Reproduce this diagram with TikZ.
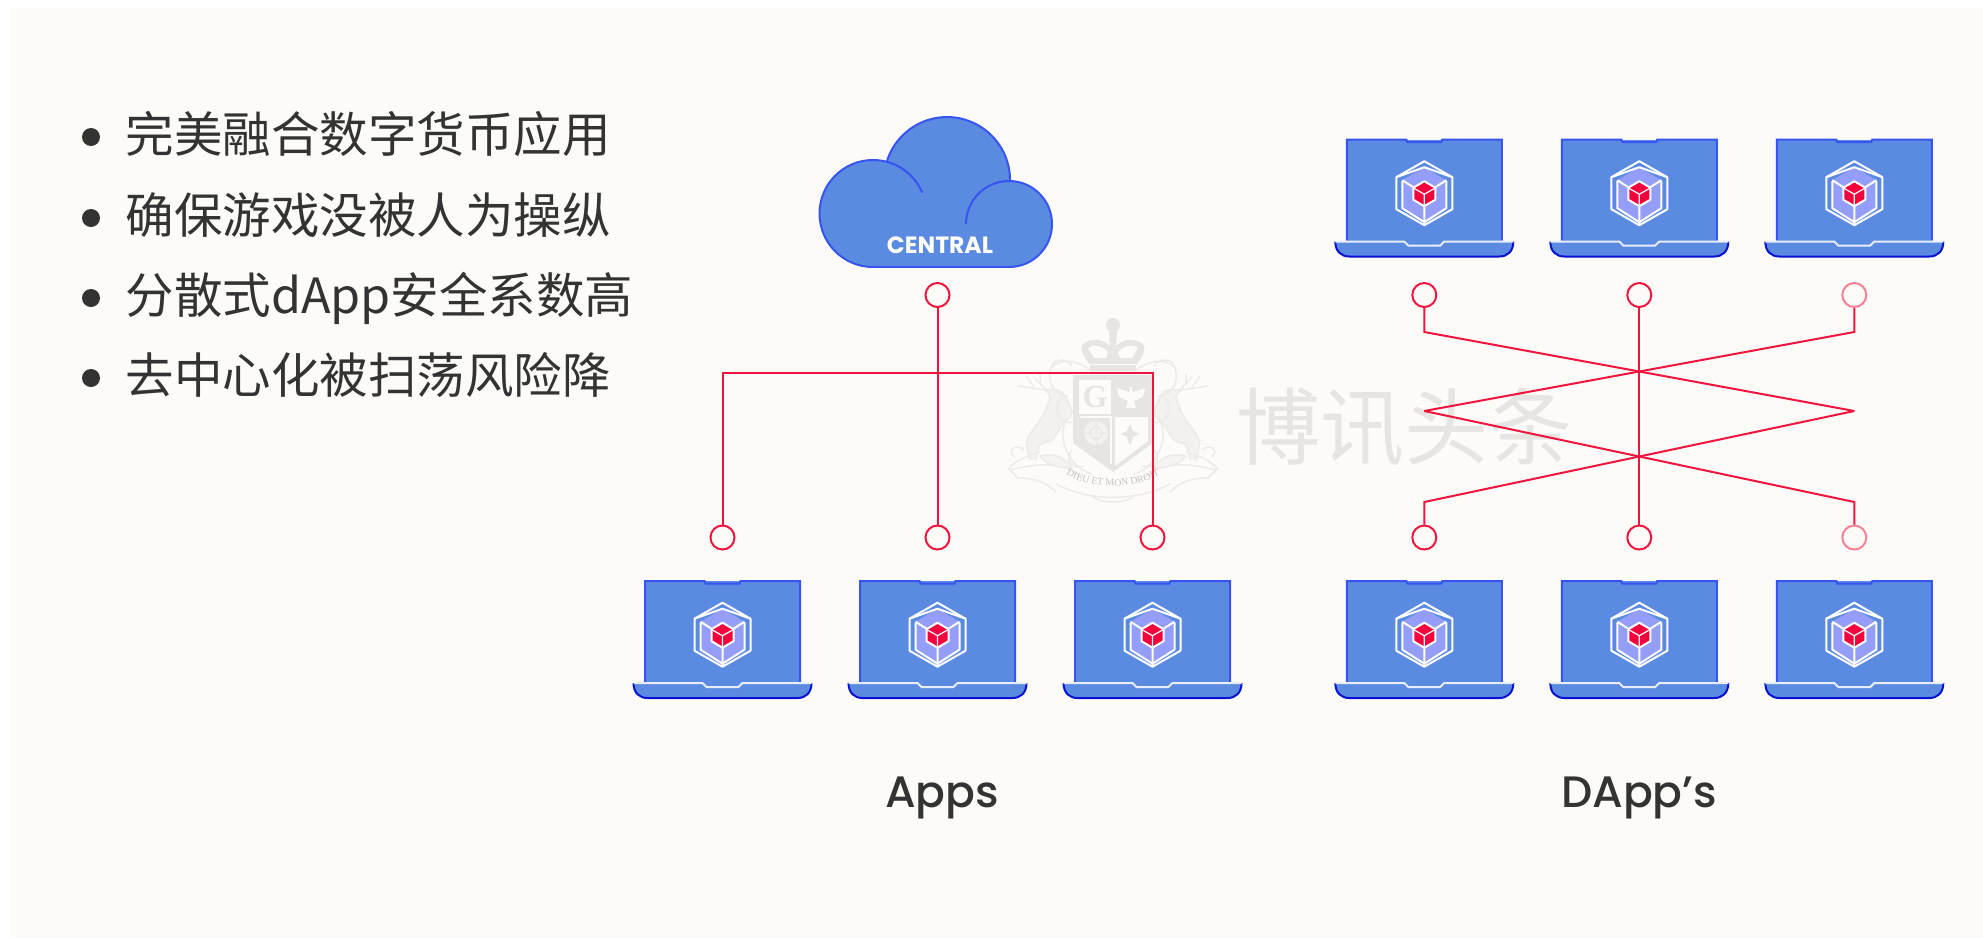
\documentclass[tikz,border=0pt]{standalone}
\usepackage{fontspec}
\setmainfont{Poppins}
\newfontfamily\cjk{Noto Sans CJK SC}
\newfontfamily\crestfont{Liberation Serif}
\newfontfamily\titlefont{Poppins Medium}
\usetikzlibrary{decorations.text}

\definecolor{paper}{HTML}{FCFBF7}
\definecolor{screen}{HTML}{5B8BE0}
\definecolor{rim}{HTML}{3655F0}
\definecolor{rimdark}{HTML}{0A12D2}
\definecolor{lilac}{HTML}{949EF8}
\definecolor{cubered}{HTML}{F5003C}
\definecolor{wirered}{HTML}{F0153E}
\definecolor{wirepale}{HTML}{F58097}
\definecolor{ink}{HTML}{333333}
\definecolor{crestgray}{HTML}{E6E5E1}
\definecolor{crestline}{HTML}{ECEBE7}

\tikzstyle{item} = [anchor=base west, inner sep=0pt, text=ink, font=\cjk\fontsize{48.5}{58}\selectfont]
\tikzstyle{dot} = [circle, minimum size=18pt, inner sep=0pt, fill=ink]
\tikzstyle{title} = [anchor=base, inner sep=0pt, text=ink, font=\titlefont\fontsize{44}{54}\selectfont]
\tikzstyle{port} = [circle, minimum size=24pt, inner sep=0pt, draw=wirered, line width=2pt]
\tikzstyle{paleport} = [port, draw=wirepale]
\tikzstyle{wire} = [draw=wirered, line width=2pt]
\tikzstyle{cloudline} = [draw=rim, line width=2pt]
\tikzstyle{scroll} = [draw=crestline, line width=1.5pt]
\tikzstyle{hexline} = [white, line width=2pt, line join=round]

\tikzset{
  laptop/.pic={
    \fill[screen] (-77.5,0) -- (77.5,0) -- (77.5,102) -- (-77.5,102) -- cycle;
    \draw[rim, line width=2pt] (-77.5,101) -- (-77.5,0) -- (-18,0) -- (-17,2.5) -- (17,2.5) -- (18,0) -- (77.5,0) -- (77.5,101);
    % base
    \fill[screen] (-89,102) .. controls (-89,112) and (-83,117) .. (-75,117) -- (75,117) .. controls (83,117) and (89,112) .. (89,102) -- cycle;
    \draw[rimdark, line width=2pt] (-89,102) .. controls (-89,112) and (-83,117) .. (-75,117) -- (75,117) .. controls (83,117) and (89,112) .. (89,102);
    \draw[white!85!screen, line width=2pt] (-89,102) -- (-20,102) -- (-16,106) -- (16,106) -- (20,102) -- (89,102);
    % cube
    \begin{scope}[shift={(0,53.7)}]
      \fill[lilac] (0,-26) -- (22,-13) -- (22,15) -- (0,28) -- (-22,15) -- (-22,-13) -- cycle;
      \draw[hexline] (0,-32) -- (28,-16) -- (28,16) -- (0,32) -- (-28,16) -- (-28,-16) -- cycle;
      \draw[hexline] (-28,-16) -- (0,-26) -- (28,-16);
      \draw[hexline] (-22,-12) -- (-22,15) -- (0,29) -- (22,15) -- (22,-12);
      \draw[hexline] (-22,-13) -- (-11,-6) (22,-13) -- (11,-6) (0,11) -- (0,32);
      \fill[cubered] (0,-11) -- (10.5,-5) -- (10.5,6) -- (0,12) -- (-10.5,6) -- (-10.5,-5) -- cycle;
      \draw[hexline] (0,-12) -- (11,-5.5) -- (11,6.5) -- (0,13) -- (-11,6.5) -- (-11,-5.5) -- cycle;
      \draw[white, line width=1.2pt, line join=round] (-10.5,-5) -- (0,1) -- (10.5,-5) (0,1) -- (0,12);
    \end{scope}
  },
  stag/.pic={
    % animal
    \draw[scroll, fill=crestgray!45!paper] plot[smooth] coordinates {(1030,460) (1027,440) (1042,417) (1050,397) (1045,390) (1062,392) (1072,413) (1062,425) (1052,440) (1040,445) (1036,460)};
    \draw[scroll] (1047,391) -- (1034,377) (1045,390) -- (1018,386) (1034,387) -- (1026,376) (1040,384) -- (1040,374);
    % mantling
    \draw[scroll] (1054,362) .. controls (1045,375) and (1050,395) .. (1068,396);
    \draw[scroll] (1054,362) .. controls (1062,358) and (1068,360) .. (1072,366);
    \draw[scroll] (1066,420) .. controls (1055,445) and (1075,470) .. (1092,474);
    \draw[scroll] (1060,398) .. controls (1052,412) and (1062,425) .. (1072,422);
    \draw[scroll] (1072,450) .. controls (1064,458) and (1072,470) .. (1084,466);
    % scroll and ribbon
    \draw[scroll] (1014,457) .. controls (1006,448) and (1018,444) .. (1024,450);
    \draw[scroll] (1008,470) .. controls (1016,458) and (1030,456) .. (1040,452);
    \draw[scroll] (1010,470) .. controls (1040,462) and (1065,462) .. (1082,478);
    \draw[scroll] (1010,470) -- (1018,478) .. controls (1040,478) and (1048,485) .. (1056,492);
    \draw[scroll, fill=crestgray!35!paper] (1040,456) .. controls (1055,452) and (1066,458) .. (1072,468) .. controls (1060,468) and (1048,466) .. (1040,456);
  }
}

\begin{document}
\begin{tikzpicture}[x=1pt, y=-1pt]
\useasboundingbox (0,0) rectangle (1983,937);
\fill[white] (0,0) rectangle (1983,937);
\fill[paper] (11,8) rectangle (1983,937);

% watermark
\pic[transform shape] at (0,0) {stag};
\begin{scope}[shift={(2226,0)}, xscale=-1]
    \pic[transform shape] at (0,0) {stag};
\end{scope}
\fill[crestgray] (1073,375) -- (1153,375) -- (1153,443) -- (1113,472) -- (1073,443) -- cycle;
\fill[paper] (1079,380) rectangle (1111,414);
\fill[paper] (1115,417) -- (1148,417) -- (1148,441) -- (1115,466) -- cycle;
\draw[paper, line width=1.5pt] (1080,417) -- (1111,417) -- (1111,464);
\node[inner sep=0pt, text=crestgray, font=\crestfont\fontsize{32}{32}\selectfont\bfseries] (shieldg) at (1095,397) {G};
\fill[paper] (1131,386) -- (1133,392) -- (1145,388) -- (1143,397) -- (1134,401) -- (1136,408) -- (1126,408) -- (1128,401) -- (1119,397) -- (1117,388) -- (1129,392) -- cycle;
\fill[paper!60!crestgray] (1096,433) circle (12);
\draw[crestgray, line width=1pt] (1096,433) circle (6) (1096,421) -- (1096,445) (1084,433) -- (1108,433);
\fill[crestgray] (1130,424) -- (1133,431) -- (1139,434) -- (1133,437) -- (1131,444) -- (1129,444) -- (1127,437) -- (1121,434) -- (1127,431) -- cycle;
% crown
\fill[crestgray] (1090,365) .. controls (1080,352) and (1076,342) .. (1094,340) .. controls (1102,339) and (1108,344) .. (1110,346) -- (1109,332) -- (1113,328) -- (1117,332) -- (1116,346) .. controls (1118,344) and (1124,339) .. (1132,340) .. controls (1150,342) and (1146,352) .. (1136,365) -- (1136,371) -- (1090,371) -- cycle;
\fill[crestgray] (1113,325) circle (7);
\fill[paper] (1088,348) .. controls (1092,344) and (1102,345) .. (1108,352) -- (1106,358) -- (1094,358) -- cycle;
\fill[paper] (1138,348) .. controls (1134,344) and (1124,345) .. (1118,352) -- (1120,358) -- (1132,358) -- cycle;
\draw[paper, line width=1pt] (1090,364) -- (1136,364);
\draw[scroll] (1052,367) .. controls (1060,358) and (1080,360) .. (1092,372);
\draw[scroll] (1174,367) .. controls (1166,358) and (1146,360) .. (1134,372);
\draw[scroll] (1056,484) .. controls (1090,502) and (1136,502) .. (1170,484);
\draw[scroll] (1092,496) .. controls (1100,504) and (1126,504) .. (1134,496);
\path[decorate, decoration={text along path, text align=center, text={|\crestfont\fontsize{10}{10}\selectfont\color{crestgray!85!black}|DIEU ET MON DROIT}}] (1060,471) .. controls (1090,491) and (1136,491) .. (1166,471);
\node[inner sep=0pt, text=crestgray, font=\cjk\fontsize{84}{84}\selectfont] (brand) at (1404,427) {博讯头条};

% bullets
\node[dot] (d1) at (91,137) {};
\node[dot] (d2) at (91,218) {};
\node[dot] (d3) at (91,298) {};
\node[dot] (d4) at (91,378) {};
\node[item] (t1) at (125.5,152) {完美融合数字货币应用};
\node[item] (t2) at (125.5,233) {确保游戏没被人为操纵};
\node[item] (t3) at (125.5,313) {分散式dApp安全系数高};
\node[item] (t4) at (125.5,393) {去中心化被扫荡风险降};

% cloud
\fill[screen] (873,214) circle (53.5);
\fill[screen] (947,180) circle (63);
\fill[screen] (1009,224) circle (43);
\fill[screen] (873,214) rectangle (1009,267);
\draw[cloudline] (873,267) arc[start angle=90, end angle=337, radius=53.5];
\draw[cloudline] (887,161) arc[start angle=197.6, end angle=361, radius=63];
\draw[cloudline] (966,224) arc[start angle=180, end angle=450, radius=43];
\draw[cloudline] (873,267) -- (1009,267);
\node[inner sep=0pt, text=white, font=\fontsize{23.5}{26}\selectfont\bfseries] (central) at (940,245) {CENTRAL};

% laptops
\pic at (722.5,581) {laptop};
\pic at (937.5,581) {laptop};
\pic at (1152.5,581) {laptop};
\pic at (1424.3,581) {laptop};
\pic at (1639.3,581) {laptop};
\pic at (1854.3,581) {laptop};
\pic at (1424.3,139.5) {laptop};
\pic at (1639.3,139.5) {laptop};
\pic at (1854.3,139.5) {laptop};

% ports
\node[port] (cen) at (937.5,295) {};
\node[port] (a1) at (722.5,537.5) {};
\node[port] (a2) at (937.5,537.5) {};
\node[port] (a3) at (1152.5,537.5) {};
\node[port] (tl) at (1424.3,295) {};
\node[port] (tm) at (1639.3,295) {};
\node[paleport] (tr) at (1854.3,295) {};
\node[port] (bl) at (1424.3,537.5) {};
\node[port] (bm) at (1639.3,537.5) {};
\node[paleport] (br) at (1854.3,537.5) {};

% wires
\coordinate (bus) at (937.5,373);
\coordinate (tlk) at (1424.3,332);
\coordinate (trk) at (1854.3,332);
\coordinate (blk) at (1424.3,502);
\coordinate (brk) at (1854.3,502);
\coordinate (lx) at (1424.3,411);
\coordinate (rx) at (1854.3,411);
\draw[wire] (cen) -- (a2);
\draw[wire] (a1) |- (bus) -| (a3);
\draw[wire] (tm) -- (bm);
\draw[wire] (tl) -- (tlk) -- (rx);
\draw[wire] (tr) -- (trk) -- (lx);
\draw[wire] (bl) -- (blk) -- (rx);
\draw[wire] (br) -- (brk) -- (lx);

\node[title] (apps) at (942,807) {Apps};
\node[title] (dapps) at (1639,807) {DApp’s};
\end{tikzpicture}
\end{document}
